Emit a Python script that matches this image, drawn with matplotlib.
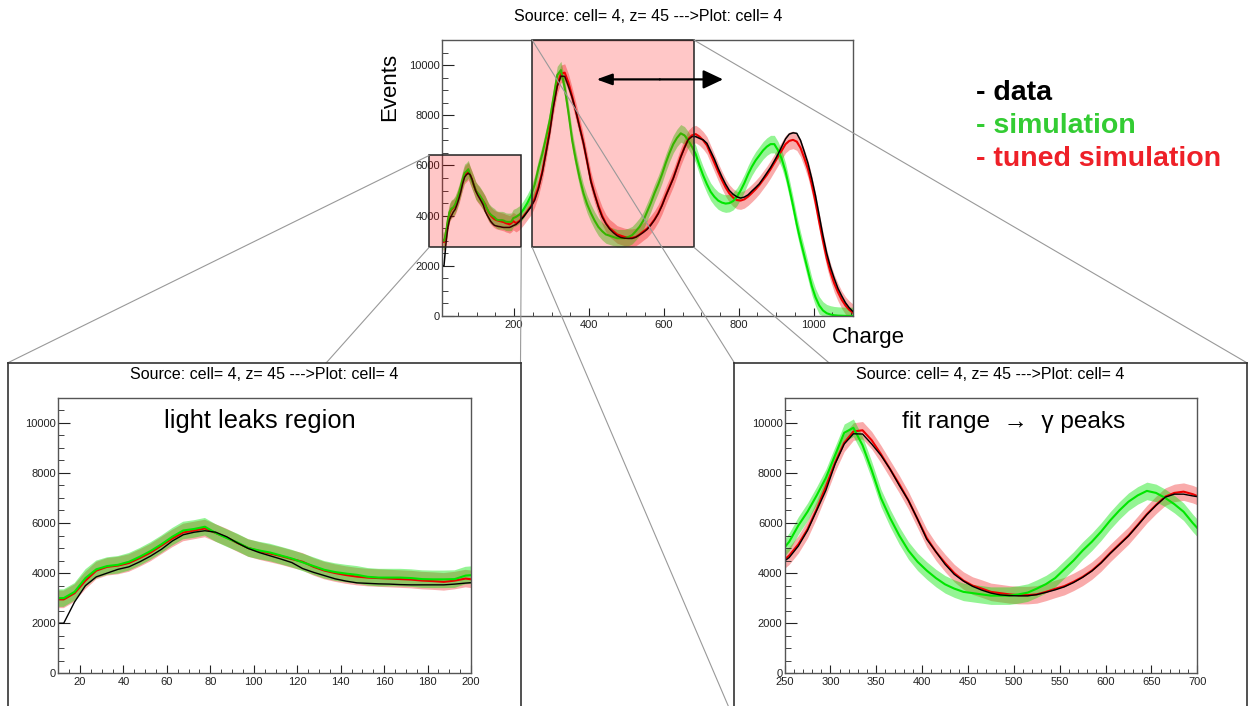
import numpy as np
import matplotlib
matplotlib.use("Agg")
import matplotlib.pyplot as plt
from matplotlib.patches import Rectangle, ConnectionPatch
from matplotlib.ticker import MultipleLocator

plt.rcParams['font.family'] = ['Liberation Sans', 'DejaVu Sans']

# ---------------- data ----------------
# bins: 5-unit bins from 10 to 200, 10-unit bins from 200 to 1110
fine_edges = np.arange(10, 200, 5)
coarse_edges = np.arange(200, 1111, 10)

data_fine = [2000, 2850, 3500, 3850, 4000, 4150, 4250, 4450, 4680, 4950,
             5280, 5530, 5630, 5690, 5630, 5450, 5200, 4980, 4820, 4690,
             4560, 4420, 4180, 4030, 3900, 3770, 3680, 3610, 3590, 3570,
             3560, 3540, 3530, 3530, 3530, 3530, 3560, 3600]
data_coarse = [3650, 3780, 3950, 4150, 4350, 4620, 5080, 5700, 6500, 7300,
               8350, 9150, 9560, 9550, 9150, 8700, 8150, 7500, 6900, 6150,
               5350, 4850, 4350, 3950, 3680, 3470, 3320, 3200, 3130, 3100,
               3090, 3090, 3140, 3230, 3330, 3450, 3620, 3830, 4080, 4400,
               4780, 5130, 5480, 5900, 6330, 6700, 7030, 7150, 7150, 7080,
               7020, 6880, 6560, 6250, 5880, 5550, 5250, 5000, 4850, 4750,
               4700, 4740, 4830, 4980, 5120, 5270, 5480, 5700, 5920, 6180,
               6450, 6760, 7060, 7250, 7300, 7280, 7000, 6550, 6080, 5480,
               4800, 4000, 3200, 2500, 1950, 1500, 1100, 800, 530, 330, 180]

sim_fine = [3000, 3250, 3800, 4150, 4280, 4330, 4450, 4650, 4880, 5150,
            5450, 5700, 5760, 5850, 5600, 5400, 5220, 5000, 4900, 4820,
            4700, 4580, 4430, 4280, 4130, 4040, 3980, 3930, 3850, 3820,
            3820, 3820, 3800, 3760, 3750, 3750, 3760, 3900]
sim_coarse = [3950, 4050, 4250, 4500, 4800, 5250, 5900, 6450, 7100, 7800,
              8700, 9600, 9800, 9100, 8100, 7000, 6200, 5500, 4900, 4450,
              4100, 3800, 3550, 3380, 3250, 3200, 3150, 3100, 3100, 3100,
              3150, 3220, 3380, 3560, 3800, 4150, 4500, 4900, 5250, 5650,
              6100, 6500, 6850, 7100, 7280, 7200, 7000, 6750, 6450, 6000,
              5600, 5250, 4950, 4750, 4600, 4520, 4480, 4500, 4580, 4750,
              5000, 5300, 5650, 5950, 6200, 6400, 6600, 6750, 6850, 6850,
              6600, 6250, 5750, 5100, 4400, 3650, 3000, 2400, 1800, 1200,
              750, 420, 220, 110, 60, 30, 15, 8, 4, 2, 0]

tuned_fine = [2950, 3200, 3700, 4100, 4250, 4300, 4400, 4600, 4820, 5100,
              5380, 5620, 5700, 5780, 5600, 5420, 5200, 5000, 4880, 4780,
              4680, 4560, 4450, 4250, 4100, 4000, 3920, 3860, 3820, 3800,
              3780, 3760, 3740, 3700, 3680, 3650, 3700, 3780]
tuned_coarse = [3700, 3800, 3980, 4180, 4380, 4700, 5150, 5750, 6550, 7450,
                8400, 9200, 9650, 9700, 9300, 8750, 8150, 7550, 6900, 6150,
                5400, 4850, 4400, 4000, 3700, 3500, 3380, 3250, 3200, 3150,
                3120, 3120, 3150, 3250, 3370, 3480, 3650, 3850, 4100, 4420,
                4800, 5150, 5500, 5920, 6350, 6720, 7050, 7200, 7250, 7150,
                7000, 6800, 6450, 6100, 5750, 5420, 5120, 4880, 4720, 4620,
                4600, 4650, 4760, 4900, 5050, 5220, 5420, 5620, 5850, 6100,
                6350, 6600, 6850, 6980, 7020, 6950, 6700, 6300, 5850, 5250,
                4550, 3750, 3000, 2300, 1750, 1300, 950, 650, 420, 250, 130]

title_text = "Source: cell= 4, z= 45 --->Plot: cell= 4"
legend_labels = ["- data", "- simulation", "- tuned simulation"]
leak_range = (10, 200)
fit_range = (250, 700)
main_range = (8, 1106)
# zoom boxes drawn on the overview (charge, events)
box_leak = (-27, 219, 2740, 6400)
box_fit = (248, 680, 2740, 11000)
arrow_span = (420, 758, 9430)

edges = np.concatenate([fine_edges, coarse_edges])
centers = 0.5 * (edges[:-1] + edges[1:])
data = np.array(data_fine + data_coarse, float)
sim = np.array(sim_fine + sim_coarse, float)
tuned = np.array(tuned_fine + tuned_coarse, float)

C_DATA = 'black'
C_SIM = '#00e600'
C_TUNED = '#ee0000'
BAND = 350

W, H = 1254, 706
fig = plt.figure(figsize=(W / 100, H / 100), dpi=100)


def fx(px):
    return px / W


def fy(py):
    return 1 - py / H


def hist_line(vals):
    # polyline through bin centres, held flat out to the outer bin edges
    xs = np.concatenate([[edges[0]], centers, [edges[-1]]])
    ys = np.concatenate([[vals[0]], vals, [vals[-1]]])
    return xs, ys


def draw_hists(ax, lw_data=1.0):
    for vals, col, a in ((tuned, C_TUNED, 0.33), (sim, C_SIM, 0.42)):
        xs, ys = hist_line(vals)
        ax.fill_between(xs, np.clip(ys - BAND, 0, None), ys + BAND,
                        color=col, alpha=a, lw=0)
        ax.plot(xs, ys, color=col, lw=1.5)
    xs, ys = hist_line(data)
    ax.plot(xs, ys, color=C_DATA, lw=lw_data)


def style(ax, xmaj, xmin, xlim):
    ax.set_xlim(*xlim)
    ax.set_ylim(0, 11000)
    ax.yaxis.set_major_locator(MultipleLocator(2000))
    ax.yaxis.set_minor_locator(MultipleLocator(500))
    ax.xaxis.set_major_locator(MultipleLocator(xmaj))
    ax.xaxis.set_minor_locator(MultipleLocator(xmin))
    ax.tick_params(which='both', direction='in', top=False, right=False,
                   labelsize=8, colors='#222222')
    ax.tick_params(axis='y', which='major', length=8.5, pad=1.5)
    ax.tick_params(axis='y', which='minor', length=4.3)
    ax.tick_params(axis='x', which='major', length=5.5, pad=3)
    ax.tick_params(axis='x', which='minor', length=2.7)
    for s in ax.spines.values():
        s.set_color('#555555')
        s.set_linewidth(1.0)


# ---------------- main overview ----------------
ax = fig.add_axes([fx(442.3), fy(316), fx(853.3) - fx(442.3), fy(40) - fy(316)])
ax.set_zorder(0)
draw_hists(ax, lw_data=1.1)
style(ax, 200, 50, main_range)
for (x0, x1, y0, y1) in (box_leak, box_fit):
    ax.add_patch(Rectangle((x0, y0), x1 - x0, y1 - y0, facecolor=(1, 0, 0, 0.22),
                           edgecolor='#222222', lw=1.1, clip_on=False, zorder=5))
xa, xb, ya = arrow_span
xm = 0.5 * (xa + xb)
ax.annotate('', xy=(xa, ya), xytext=(xm, ya),
            arrowprops=dict(arrowstyle='-|>,head_length=0.55,head_width=0.2',
                            color='black', lw=1.6, mutation_scale=17,
                            shrinkA=0, shrinkB=0), zorder=6)
ax.annotate('', xy=(xb, ya), xytext=(xm, ya),
            arrowprops=dict(arrowstyle='-|>,head_length=0.55,head_width=0.26',
                            color='black', lw=1.6, mutation_scale=22,
                            shrinkA=0, shrinkB=0), zorder=6)

fig.text(fx(648), fy(16.5), title_text, ha='center', va='center', fontsize=11.5)
fig.text(fx(390), fy(87), "Events", rotation=90, ha='center', va='center', fontsize=16)
fig.text(fx(832), fy(343), "Charge", ha='left', va='baseline', fontsize=16)

leg_colors = [C_DATA, '#33cc33', '#ee2028']
for lbl, col, yb in zip(legend_labels, leg_colors, (100, 132.7, 166)):
    fig.text(fx(976), fy(yb), lbl, color=col, fontsize=20.5, fontweight='bold',
             ha='left', va='baseline')

# ---------------- zoom panels ----------------
panels = []
for (bx0, ix0, xlim, xmaj, xmin, note, note_x, note_fs) in (
        (8, 58.3, leak_range, 20, 5, "light leaks region", 260, 18.3),
        (734.3, 784.6, fit_range, 50, 10, "fit range  \u2192  \u03b3 peaks", 1014, 17.6)):
    box = fig.add_axes([fx(bx0), -0.02, 512.5 / W, fy(362.7) + 0.02])
    box.set_zorder(2)
    box.set_facecolor('white')
    box.set_xticks([])
    box.set_yticks([])
    for s in box.spines.values():
        s.set_color('#333333')
        s.set_linewidth(1.2)
    inner = fig.add_axes([fx(ix0), fy(673.3), 412.7 / W, fy(397.7) - fy(673.3)])
    inner.set_zorder(3)
    draw_hists(inner)
    style(inner, xmaj, xmin, xlim)
    cx = bx0 + 256.25
    fig.text(fx(cx), fy(374.5), title_text, ha='center', va='center',
             fontsize=11.5, zorder=10)
    fig.text(fx(note_x), fy(428), note, ha='center', va='baseline',
             fontsize=note_fs, zorder=10)
    panels.append(box)

# ---------------- connector lines ----------------
lx0, lx1, ly0, ly1 = box_leak
fx0, fx1, fy0, fy1 = box_fit
links = [((lx0, ly1), panels[0], (0, 1)),
         ((lx0, ly0), panels[0], (0, 0)),
         ((lx1, ly0), panels[0], (1, 1)),
         ((fx0, fy1), panels[1], (0, 1)),
         ((fx0, fy0), panels[1], (0, 0)),
         ((fx1, fy1), panels[1], (1, 1)),
         ((fx1, fy0), panels[1], (1, 0))]
for xyA, pan, xyB in links:
    cp = ConnectionPatch(xyA=xyA, coordsA=ax.transData, xyB=xyB,
                         coordsB=pan.transAxes, color='#999999', lw=0.8,
                         zorder=1.5)
    fig.add_artist(cp)

fig.savefig("out.png", dpi=100)
